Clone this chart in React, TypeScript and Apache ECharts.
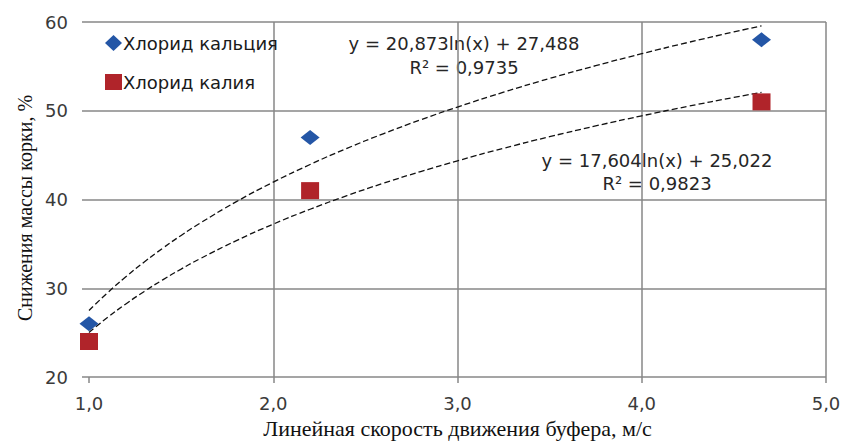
import React, { useEffect, useRef } from "react";
import * as echarts from "echarts";

const seriesNames = ["Хлорид кальция", "Хлорид калия"];
const speedX = [1.0, 2.2, 4.65];
const calciumY = [26, 47, 58];
const potassiumY = [24, 41, 51];
// trendline coefficients shown on the chart: y = a*ln(x) + b
const calciumTrend = { a: 20.873, b: 27.488 };
const potassiumTrend = { a: 17.604, b: 25.022 };
const trendXs = [1.0, 1.1, 1.2, 1.3, 1.4, 1.5, 1.6, 1.8, 2.0, 2.2, 2.4, 2.6, 2.8, 3.0, 3.25, 3.5, 3.75, 4.0, 4.25, 4.5, 4.65];
const calciumLabel = ["y = 20,873ln(x) + 27,488", "R² = 0,9735"];
const potassiumLabel = ["y = 17,604ln(x) + 25,022", "R² = 0,9823"];
const xTitle = "Линейная скорость движения буфера, м/с";
const yTitle = "Снижения массы корки, %";

const SANS = "'DejaVu Sans', sans-serif";
const SERIF = "'Liberation Serif', 'DejaVu Serif', serif";

function trend(t: { a: number; b: number }) {
  return trendXs.map((x) => [x, t.a * Math.log(x) + t.b]);
}

export default function App() {
  const ref = useRef<HTMLDivElement>(null);
  useEffect(() => {
    if (!ref.current) return;
    const chart = echarts.init(ref.current, null, { renderer: "svg" });
    const grid = "#878787";
    chart.setOption({
      animation: false,
      backgroundColor: "#ffffff",
      grid: { left: 89, right: 17, top: 22, bottom: 64, containLabel: false, outerBoundsMode: "none" },
      legend: {
        orient: "vertical",
        left: 100,
        top: 29,
        itemWidth: 17,
        itemHeight: 16,
        itemGap: 21,
        data: [
          { name: seriesNames[0], icon: "diamond" },
          { name: seriesNames[1], icon: "rect" },
        ],
        textStyle: { fontFamily: SANS, fontSize: 18, color: "#1a1a1a", padding: [0, 0, 0, -4] },
      },
      xAxis: {
        type: "value",
        min: 1,
        max: 5,
        interval: 1,
        axisLine: { show: false },
        axisTick: { show: true, length: 6, lineStyle: { color: grid, width: 1.5 } },
        splitLine: { show: true, showMinLine: false, lineStyle: { color: grid, width: 1.5 } },
        axisLabel: {
          margin: 17,
          fontFamily: SANS,
          fontSize: 18,
          color: "#3a3a3a",
          formatter: (v: number) => v.toFixed(1).replace(".", ","),
        },
        name: xTitle,
        nameLocation: "middle",
        nameGap: 40,
        nameTextStyle: { fontFamily: SERIF, fontSize: 22, color: "#111", lineHeight: 22 },
      },
      yAxis: {
        type: "value",
        min: 20,
        max: 60,
        interval: 10,
        axisLine: { show: false },
        axisTick: { show: true, length: 7, lineStyle: { color: grid, width: 1.5 } },
        splitLine: { show: true, lineStyle: { color: grid, width: 1.5 } },
        axisLabel: { margin: 21, fontFamily: SANS, fontSize: 18, color: "#3a3a3a" },
      },
      series: [
        {
          name: seriesNames[0] + " тренд",
          type: "line",
          data: trend(calciumTrend),
          smooth: true,
          symbol: "none",
          lineStyle: { color: "#111", width: 1.3, type: [6, 3] },
          z: 2,
        },
        {
          name: seriesNames[1] + " тренд",
          type: "line",
          data: trend(potassiumTrend),
          smooth: true,
          symbol: "none",
          lineStyle: { color: "#111", width: 1.3, type: [6, 3] },
          z: 2,
        },
        {
          name: seriesNames[0],
          type: "scatter",
          symbol: "diamond",
          symbolSize: [19, 15],
          itemStyle: { color: "#2456A6", opacity: 1 },
          data: speedX.map((x, i) => [x, calciumY[i]]),
          z: 3,
        },
        {
          name: seriesNames[1],
          type: "scatter",
          symbol: "rect",
          symbolSize: [18, 17],
          itemStyle: { color: "#B0242A", opacity: 1 },
          data: speedX.map((x, i) => [x, potassiumY[i]]),
          z: 3,
        },
      ],
      graphic: [
        { type: "text", x: 464, y: 43, style: { text: calciumLabel[0], font: `18px ${SANS}`, fill: "#262626", align: "center", verticalAlign: "middle" } },
        { type: "text", x: 464, y: 67, style: { text: calciumLabel[1], font: `18px ${SANS}`, fill: "#262626", align: "center", verticalAlign: "middle" } },
        { type: "text", x: 657, y: 160, style: { text: potassiumLabel[0], font: `18px ${SANS}`, fill: "#262626", align: "center", verticalAlign: "middle" } },
        { type: "text", x: 657, y: 183, style: { text: potassiumLabel[1], font: `18px ${SANS}`, fill: "#262626", align: "center", verticalAlign: "middle" } },
        { type: "text", x: 25, y: 208, rotation: Math.PI / 2, style: { text: yTitle, font: `20px ${SERIF}`, fill: "#111", align: "center", verticalAlign: "middle" } },
      ],
    });
    return () => chart.dispose();
  }, []);
  return <div ref={ref} style={{ width: 843, height: 441, position: "absolute", left: 0, top: 0 }} />;
}
